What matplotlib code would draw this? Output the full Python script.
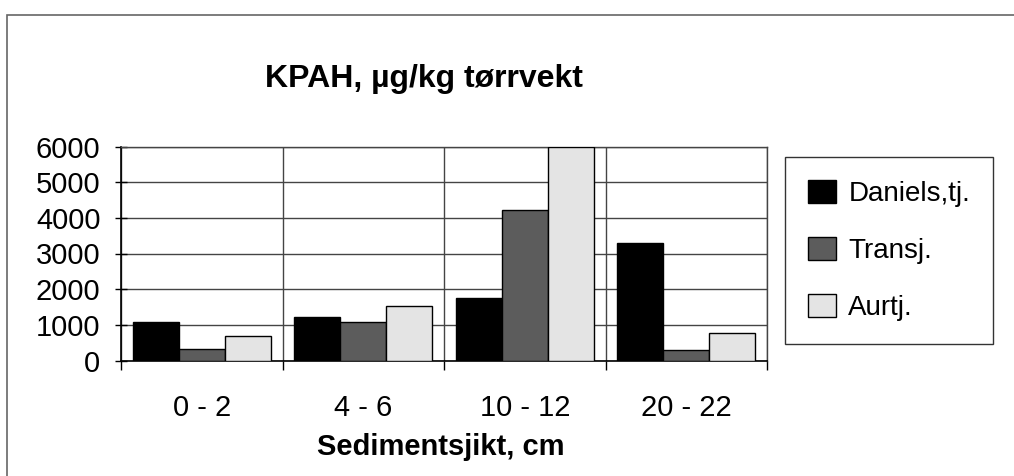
import matplotlib
matplotlib.use("Agg")
import matplotlib.pyplot as plt
from matplotlib.patches import Rectangle
import numpy as np

categories = ["0 - 2", "4 - 6", "10 - 12", "20 - 22"]
series_names = ["Daniels,tj.", "Transj.", "Aurtj."]
daniels = [1080, 1220, 1750, 3300]
transj = [330, 1080, 4220, 290]
aurtj = [700, 1530, 6000, 780]
y_ticks = [0, 1000, 2000, 3000, 4000, 5000, 6000]

title = "KPAH, µg/kg tørrvekt"
xlabel = "Sedimentsjikt, cm"

plt.rcParams['font.family'] = ['Liberation Sans', 'DejaVu Sans']

W, H = 1014, 476
fig = plt.figure(figsize=(W / 100, H / 100), dpi=100)
fig.patch.set_facecolor('white')

def fx(px):
    return px / W

def fy(py):
    return 1 - py / H

# outer frame (left and top visible)
fig.patches.append(Rectangle((fx(7), fy(478)), fx(1020) - fx(7), fy(15) - fy(478),
                             transform=fig.transFigure, fill=False,
                             edgecolor='#666666', linewidth=1.2, zorder=0))

ax_l, ax_r, ax_t, ax_b = 121, 767, 146.5, 360.5
ax = fig.add_axes([fx(ax_l), fy(ax_b), fx(ax_r) - fx(ax_l), fy(ax_t) - fy(ax_b)])

x = np.arange(len(categories))
bw = 0.285
colors = ['#000000', '#5c5c5c', '#e4e4e4']
data = [daniels, transj, aurtj]
for i, (vals, name, c) in enumerate(zip(data, series_names, colors)):
    ax.bar(x + (i - 1) * bw, vals, width=bw, color=c, edgecolor='black',
           linewidth=1.0, label=name, zorder=3)

ax.set_xlim(-0.5, len(categories) - 0.5)
ax.set_ylim(0, 6000)
ax.set_yticks(y_ticks)
ax.set_yticklabels([str(v) for v in y_ticks])
ax.set_xticks(x)
ax.set_xticklabels(categories)
ax.set_xticks(np.arange(-0.5, len(categories), 1.0), minor=True)

ax.tick_params(axis='x', which='major', length=0, pad=24, labelsize=21)
ax.tick_params(axis='x', which='minor', length=6.5, direction='out', width=1, color='black')
ax.tick_params(axis='y', which='major', length=8.6, direction='inout', width=1,
               pad=10.5, labelsize=21, color='black')

ax.yaxis.grid(True, color='#444444', linewidth=1.0, zorder=1)
ax.xaxis.grid(True, which='minor', color='#444444', linewidth=1.0, zorder=1)
ax.set_axisbelow(True)

for s in ['left', 'bottom']:
    ax.spines[s].set_color('black')
    ax.spines[s].set_linewidth(1.2)
for s in ['top', 'right']:
    ax.spines[s].set_color('#444444')
    ax.spines[s].set_linewidth(1.0)

fig.text(fx(424), fy(87), title, ha='center', va='baseline',
         fontsize=23, fontweight='bold')
fig.text(fx(441), fy(455), xlabel, ha='center', va='baseline',
         fontsize=21, fontweight='bold')

leg = fig.legend(loc='upper left',
                 bbox_to_anchor=(fx(785), fy(157)),
                 fontsize=20, frameon=True, fancybox=False, shadow=False,
                 edgecolor='black', facecolor='white',
                 handlelength=1.0, handleheight=0.9, handletextpad=0.45,
                 labelspacing=1.08, borderpad=0.83, borderaxespad=0)
leg.get_frame().set_linewidth(1.0)

fig.savefig("out.png", dpi=100, facecolor='white')
